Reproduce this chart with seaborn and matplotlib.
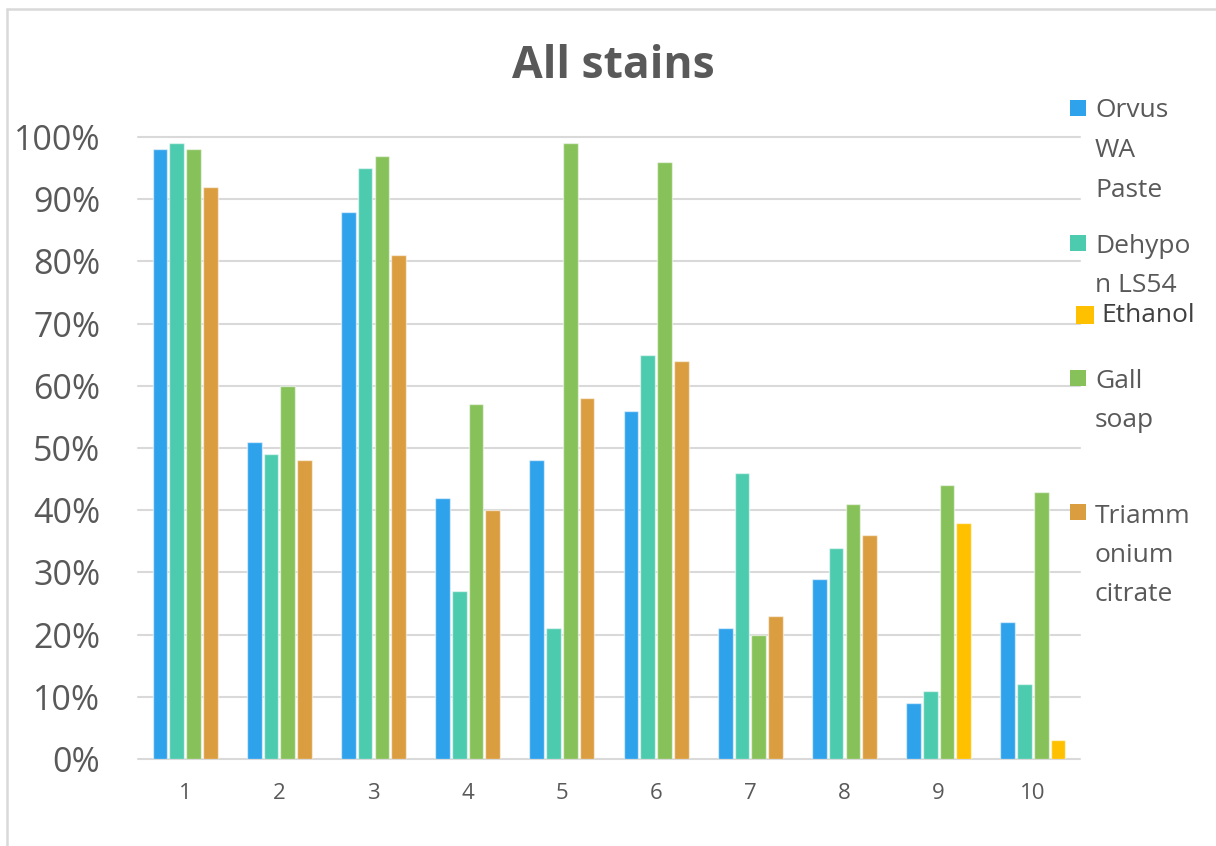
import numpy as np
import pandas as pd
import matplotlib
matplotlib.use("Agg")
import matplotlib.pyplot as plt
import seaborn as sns
from matplotlib.patches import Rectangle
from matplotlib.lines import Line2D
from matplotlib.ticker import PercentFormatter, MultipleLocator

# ---- data -------------------------------------------------------------
groups = ["1", "2", "3", "4", "5", "6", "7", "8", "9", "10"]
orvus = [0.98, 0.51, 0.88, 0.42, 0.48, 0.56, 0.21, 0.29, 0.09, 0.22]
dehypon = [0.99, 0.49, 0.95, 0.27, 0.21, 0.65, 0.46, 0.34, 0.11, 0.12]
gall_soap = [0.98, 0.60, 0.97, 0.57, 0.99, 0.96, 0.20, 0.41, 0.44, 0.43]
triammonium = [0.92, 0.48, 0.81, 0.40, 0.58, 0.64, 0.23, 0.36, np.nan, np.nan]
ethanol = [np.nan] * 8 + [0.38, 0.03]

series_names = ["Orvus WA Paste", "Dehypon LS54", "Ethanol", "Gall soap",
                "Triammonium citrate"]
legend_lines = [["Orvus", "WA", "Paste"], ["Dehypo", "n LS54"], ["Ethanol"],
                ["Gall", "soap"], ["Triamm", "onium", "citrate"]]

# ---- styling ----------------------------------------------------------
colors = {
    "Orvus WA Paste": "#2EA3EC",
    "Dehypon LS54": "#4DCBAE",
    "Ethanol": "#FFC000",
    "Gall soap": "#87C159",
    "Triammonium citrate": "#DA9D3F",
}
# bar slot inside each group
slot_of = {
    "Orvus WA Paste": "s1",
    "Dehypon LS54": "s2",
    "Gall soap": "s3",
    "Triammonium citrate": "s4",
    "Ethanol": "s4",
}
slots = ["s1", "s2", "s3", "s4"]

values = {
    "Orvus WA Paste": orvus,
    "Dehypon LS54": dehypon,
    "Ethanol": ethanol,
    "Gall soap": gall_soap,
    "Triammonium citrate": triammonium,
}
rows = []
for name in series_names:
    for g, v in zip(groups, values[name]):
        if not np.isnan(v):
            rows.append({"group": g, "value": v, "series": name,
                         "slot": slot_of[name]})
df = pd.DataFrame(rows)

sns.set_style("white")
plt.rcParams["font.family"] = ["Open Sans", "DejaVu Sans"]
text_grey = "#595959"
grid_grey = "#D9D9D9"

W, H = 1216, 846
fig = plt.figure(figsize=(W / 100, H / 100), dpi=100)
ax = fig.add_axes([138 / W, 1 - 759 / H, (1080 - 138) / W, (759 - 137) / H])

edge = (1, 1, 1, 0.55)
bar_kw = dict(x="group", y="value", hue="slot", order=groups,
              hue_order=slots, width=0.71, gap=0.12, dodge=True,
              saturation=1, edgecolor=edge, linewidth=1.0, legend=False,
              ax=ax, zorder=3)

main = df[df["series"] != "Ethanol"]
pal_main = {slot_of[n]: colors[n] for n in series_names if n != "Ethanol"}
sns.barplot(data=main, palette=pal_main, **bar_kw)

eth = df[df["series"] == "Ethanol"]
pal_eth = dict(pal_main)
pal_eth["s4"] = colors["Ethanol"]
sns.barplot(data=eth, palette=pal_eth, **bar_kw)

ax.set_xlim(-0.5, len(groups) - 0.5)
ax.set_ylim(0, 1.0)
ax.yaxis.set_major_locator(MultipleLocator(0.1))
ax.yaxis.set_major_formatter(PercentFormatter(1.0, decimals=0))
ax.set_xlabel("")
ax.set_ylabel("")
ax.grid(axis="y", color=grid_grey, linewidth=1.5, zorder=0)
ax.grid(axis="x", visible=False)
for gl in ax.get_ygridlines():
    gl.set_clip_on(False)
for s in ax.spines.values():
    s.set_visible(False)
ax.tick_params(axis="y", length=0, pad=27, labelsize=24.5, labelcolor=text_grey)
ax.tick_params(axis="x", length=0, pad=17, labelsize=16, labelcolor=text_grey)

# title
fig.text(613 / W, 1 - 78 / H, "All stains", ha="center", va="baseline",
         fontsize=32, fontweight="bold", color=text_grey)

# legend, one coloured square and wrapped label per series
legend_layout = {
    "Orvus WA Paste": (1070, 108, 1095, [117, 157, 197]),
    "Dehypon LS54": (1070, 243, 1095, [253, 292]),
    "Ethanol": (1076, 315, 1101, [322]),
    "Gall soap": (1070, 378, 1095, [388, 427]),
    "Triammonium citrate": (1070, 512, 1095, [523, 562, 601]),
}
for name, lines in zip(series_names, legend_lines):
    sx, sy, tx, baselines = legend_layout[name]
    size = 18 if name == "Ethanol" else 16
    fig.patches.append(Rectangle((sx / W, 1 - (sy + size / 2) / H), size / W,
                                 size / H, transform=fig.transFigure,
                                 facecolor=colors[name], edgecolor="none"))
    tcolor = "#404040" if name == "Ethanol" else text_grey
    for line, b in zip(lines, baselines):
        fig.text(tx / W, 1 - b / H, line, ha="left", va="baseline",
                 fontsize=19, color=tcolor)

# chart-area frame (left and top edges)
fig.lines.append(Line2D([7 / W, 7 / W], [0, 1 - 9 / H], transform=fig.transFigure,
                        color=grid_grey, linewidth=1.8))
fig.lines.append(Line2D([7 / W, 1], [1 - 9 / H, 1 - 9 / H],
                        transform=fig.transFigure, color=grid_grey,
                        linewidth=1.8))

fig.savefig("out.png", dpi=100)
